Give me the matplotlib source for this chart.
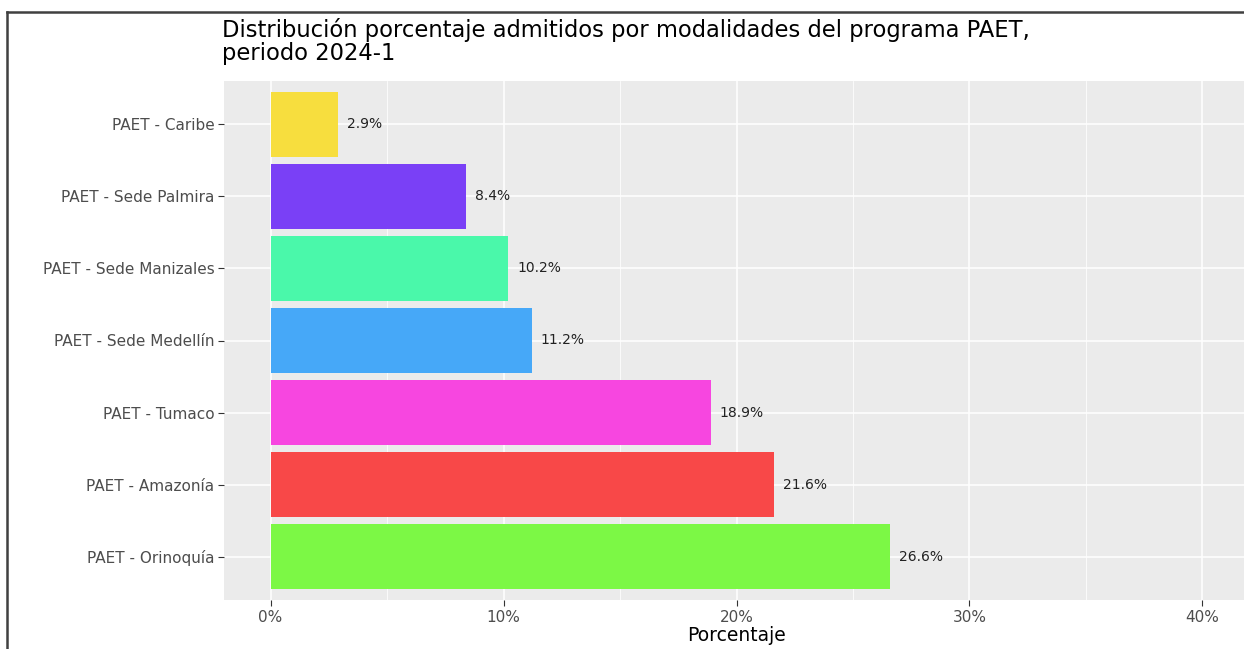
import matplotlib
matplotlib.use("Agg")
import matplotlib.pyplot as plt
from matplotlib.lines import Line2D

plt.rcParams['font.family'] = ['DejaVu Sans']

categories = ["PAET - Orinoquía", "PAET - Amazonía", "PAET - Tumaco",
              "PAET - Sede Medellín", "PAET - Sede Manizales",
              "PAET - Sede Palmira", "PAET - Caribe"]
values = [26.6, 21.6, 18.9, 11.2, 10.2, 8.4, 2.9]
colors = ["#7CF845", "#F84848", "#F746E0", "#46A8F8", "#4AF8AA", "#7A40F6", "#F7DE3E"]
xticks = [0, 10, 20, 30, 40]
xticklabels = ["0%", "10%", "20%", "30%", "40%"]
minor_ticks = [5, 15, 25, 35]
title = "Distribución porcentaje admitidos por modalidades del programa PAET,\nperiodo 2024-1"
xlabel = "Porcentaje"

W, H = 1244, 649
fig = plt.figure(figsize=(W / 100, H / 100), dpi=100)
fig.patch.set_facecolor("white")

left, right, top, bottom = 224, 1249, 81, 600
ax = fig.add_axes([left / W, 1 - bottom / H, (right - left) / W, (bottom - top) / H])
ax.set_facecolor("#EBEBEB")

y = list(range(len(categories)))
ax.barh(y, values, height=0.9, color=colors, zorder=3)
for yi, v in zip(y, values):
    ax.annotate(f"{v:.1f}%", (v, yi), xytext=(6.5, 0), textcoords="offset points",
                va="center", ha="left", fontsize=10, color="#222222", zorder=4)

ax.set_xlim(-2, 42)
ax.set_ylim(-0.6, len(categories) - 0.4)
ax.set_xticks(xticks)
ax.set_xticklabels(xticklabels)
ax.set_xticks(minor_ticks, minor=True)
ax.set_yticks(y)
ax.set_yticklabels(categories)

ax.grid(which="major", color="white", linewidth=1.1, zorder=0)
ax.grid(which="minor", axis="x", color="white", linewidth=0.55, zorder=0)
ax.set_axisbelow(True)
for s in ax.spines.values():
    s.set_visible(False)

ax.tick_params(axis="both", which="major", length=4, width=0.8, color="#333333",
               labelsize=11, labelcolor="#4D4D4D", pad=3)
ax.tick_params(axis="x", which="minor", length=0)

ax.set_xlabel(xlabel, fontsize=13.5, color="black", labelpad=1)
fig.text(222 / W, 1 - 18 / H, title, ha="left", va="top", fontsize=16.3, color="black",
         linespacing=1.0)

# partial frame of the screenshot (left and top edges)
fig.add_artist(Line2D([7 / W, 7 / W], [0, 1 - 12 / H], transform=fig.transFigure,
                      color="#404040", linewidth=1.8))
fig.add_artist(Line2D([7 / W, 1.01], [1 - 12 / H, 1 - 12 / H], transform=fig.transFigure,
                      color="#404040", linewidth=1.8))

fig.savefig("out.png", dpi=100)
